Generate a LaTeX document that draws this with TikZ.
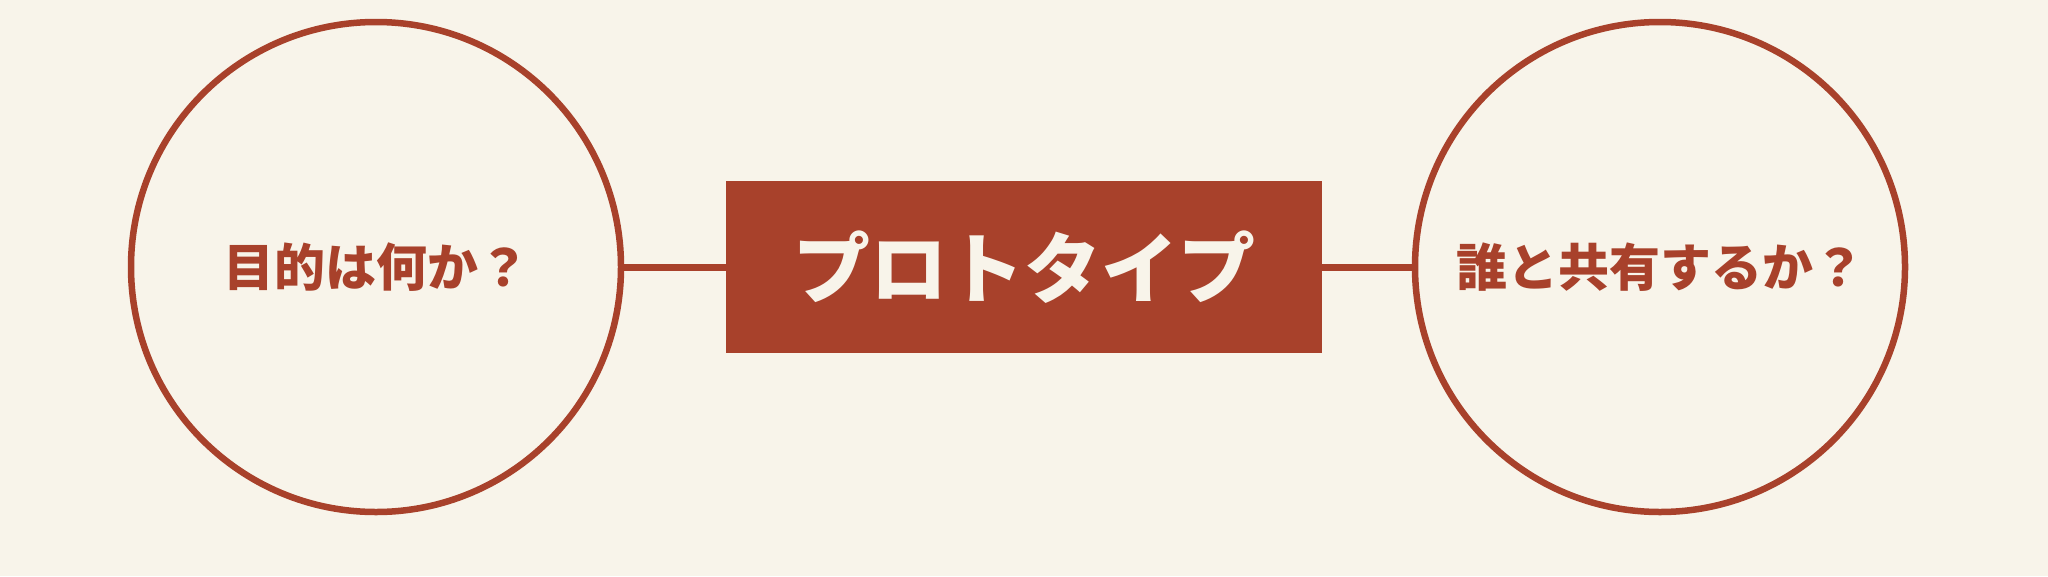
\documentclass[tikz,border=0pt]{standalone}
\usepackage{fontspec}
\newfontfamily\cjk{Noto Sans CJK JP}
\definecolor{bgc}{HTML}{F8F4EA}
\definecolor{rust}{HTML}{A8412B}
\begin{document}
\begin{tikzpicture}[x=1pt,y=-1pt,
  ring/.style={circle,draw=rust,line width=6.5pt,fill=bgc,minimum size=490pt,inner sep=0pt,
    font=\cjk\bfseries\fontsize{51}{58}\selectfont,text=rust},
  titlebox/.style={rectangle,fill=rust,minimum width=596pt,minimum height=172pt,inner sep=0pt,
    font=\cjk\bfseries\fontsize{77}{86}\selectfont,text=bgc},
  link/.style={draw=rust,line width=7pt}]
\fill[bgc] (0,0) rectangle (2048,576);
\useasboundingbox (0,0) rectangle (2048,576);
\node[ring] (c1) at (376,267) {目的は何か？};
\node[ring] (c2) at (1660,267) {誰と共有するか？};
\node[titlebox] (t) at (1024,267) {プロトタイプ};
\draw[link] (c1.east) -- (t.west);
\draw[link] (t.east) -- (c2.west);
\end{tikzpicture}
\end{document}
